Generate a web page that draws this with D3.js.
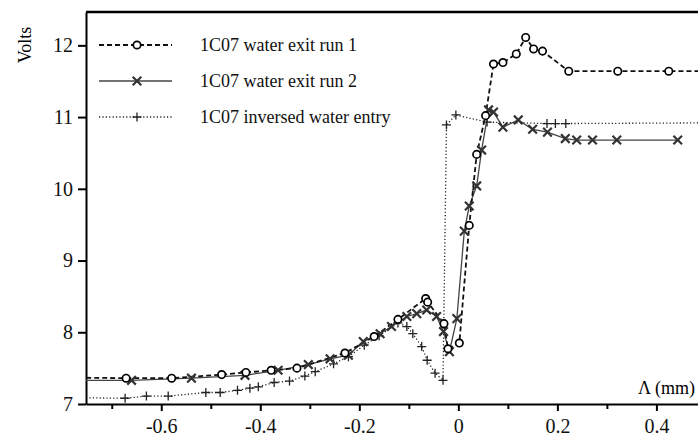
<!DOCTYPE html>
<html>
<head>
<meta charset="utf-8">
<script src="https://cdn.jsdelivr.net/npm/d3@7"></script>
<style>
body{margin:0;background:#fff;}
svg{display:block;font-family:"Liberation Serif","DejaVu Serif",serif;}
</style>
</head>
<body>
<div id="chart"></div>
<script>
// run 1 : circles, dashed
var run1X = [-0.80,-0.671,-0.579,-0.478,-0.429,-0.378,-0.326,-0.229,-0.170,-0.122,-0.066,-0.062,-0.029,-0.021,0.002,0.022,0.037,0.055,0.071,0.090,0.117,0.136,0.152,0.170,0.223,0.322,0.425,0.53];
var run1Y = [7.37,7.36,7.36,7.41,7.44,7.47,7.50,7.71,7.94,8.18,8.47,8.42,8.12,7.77,7.85,9.49,10.48,11.02,11.74,11.76,11.88,12.11,11.95,11.92,11.64,11.64,11.64,11.64];
var run1Marked = [0,1,1,1,1,1,1,1,1,1,1,1,1,1,1,1,1,1,1,1,1,1,1,1,1,1,1,0];

// run 2 : crosses, solid
var run2X = [-0.80,-0.660,-0.539,-0.431,-0.364,-0.303,-0.259,-0.222,-0.192,-0.158,-0.135,-0.104,-0.084,-0.064,-0.044,-0.030,-0.018,-0.003,0.012,0.022,0.037,0.047,0.061,0.071,0.090,0.121,0.150,0.180,0.216,0.239,0.271,0.320,0.443];
var run2Y = [7.33,7.33,7.36,7.40,7.47,7.55,7.63,7.68,7.87,7.98,8.08,8.22,8.26,8.31,8.22,8.01,7.73,8.19,9.41,9.76,10.04,10.54,11.10,11.07,10.86,10.96,10.83,10.79,10.70,10.68,10.68,10.68,10.68];
var run2Marked = [0,1,1,1,1,1,1,1,1,1,1,1,1,1,1,1,1,1,1,1,1,1,1,1,1,1,1,1,1,1,1,1,1];

// inversed entry : plus, dotted
var entryX = [-0.80,-0.673,-0.630,-0.586,-0.510,-0.481,-0.446,-0.421,-0.404,-0.372,-0.341,-0.310,-0.289,-0.252,-0.222,-0.190,-0.160,-0.122,-0.104,-0.092,-0.074,-0.063,-0.047,-0.031,-0.024,-0.005,0.058,0.179,0.196,0.217,0.53];
var entryY = [7.09,7.08,7.11,7.11,7.16,7.16,7.19,7.22,7.24,7.30,7.32,7.39,7.45,7.56,7.66,7.82,7.95,8.13,8.08,7.98,7.80,7.61,7.43,7.33,10.89,11.03,10.93,10.91,10.91,10.91,10.92];
var entryMarked = [0,1,1,1,1,1,1,1,1,1,1,1,1,1,1,1,1,1,1,1,1,1,1,1,1,1,1,1,1,1,0];

var seriesNames = ["1C07 water exit run 1","1C07 water exit run 2","1C07 inversed water entry"];
var xTicks = [-0.6,-0.4,-0.2,0,0.2,0.4];
var xMinor = [-0.7,-0.5,-0.3,-0.1,0.1,0.3];
var yTicks = [7,8,9,10,11,12];

var W = 698, H = 439;
var padL = 86, padT = 12, padB = 404, padR = 698;

var svg = d3.select("#chart").append("svg").attr("width",W).attr("height",H);

var x = d3.scaleLinear().domain([-0.752,0.484]).range([padL,padR]);
var y = d3.scaleLinear().domain([7,12.465]).range([padB,padT]);

svg.append("clipPath").attr("id","plot")
    .append("rect").attr("x",padL).attr("y",padT).attr("width",padR-padL).attr("height",padB-padT);

// axes
var fmtX = function(d){ return d==0 ? "0" : (d<0 ? "-" : "") + d3.format(".1f")(Math.abs(d)); };
var xAxis = svg.append("g").attr("transform","translate(0,"+padB+")")
    .call(d3.axisBottom(x).tickValues(xTicks).tickSize(7).tickSizeOuter(0).tickFormat(fmtX))
    .attr("font-family",null);
xAxis.select(".domain").attr("stroke-width",2);
xAxis.selectAll(".tick line").attr("stroke-width",2);
xAxis.selectAll("text").attr("font-size",20).attr("dy","0.95em").attr("fill","#111");

svg.append("g").attr("transform","translate(0,"+padB+")")
    .call(d3.axisBottom(x).tickValues(xMinor).tickSize(5).tickFormat(""))
    .call(function(g){g.select(".domain").remove();})
    .selectAll(".tick line").attr("stroke-width",2);

var yAxis = svg.append("g").attr("transform","translate("+padL+",0)")
    .call(d3.axisLeft(y).tickValues(yTicks).tickSize(8).tickSizeOuter(0).tickFormat(d3.format("d")))
    .attr("font-family",null);
yAxis.select(".domain").attr("stroke-width",2);
yAxis.selectAll(".tick line").attr("stroke-width",2);
yAxis.selectAll("text").attr("font-size",20).attr("x",-13).attr("fill","#111");

svg.append("line").attr("x1",padL).attr("x2",padR).attr("y1",padT).attr("y2",padT)
    .attr("stroke","#000").attr("stroke-width",2.5);

svg.append("text").attr("transform","translate(31,45) rotate(-90)")
    .attr("text-anchor","middle").attr("font-size",18).text("Volts");
svg.append("text").attr("x",695).attr("y",394).attr("text-anchor","end")
    .attr("font-size",18).text("\u039B (mm)");

var styles = [
  {dash:"5,3", width:1.8, color:"#111", marker:"circle"},
  {dash:null, width:1.3, color:"#444", marker:"cross"},
  {dash:"1.2,2.2", width:1.3, color:"#222", marker:"plus"}
];

function drawMarker(g, kind, px, py){
  if(kind=="circle"){
    g.append("circle").attr("cx",px).attr("cy",py).attr("r",3.7)
      .attr("fill","#fff").attr("stroke","#000").attr("stroke-width",1.7);
  }else if(kind=="cross"){
    g.append("path").attr("d","M"+(px-4.3)+","+(py-4.3)+"L"+(px+4.3)+","+(py+4.3)+"M"+(px-4.3)+","+(py+4.3)+"L"+(px+4.3)+","+(py-4.3))
      .attr("stroke","#333").attr("stroke-width",2.2);
  }else{
    g.append("path").attr("d","M"+(px-4.5)+","+py+"L"+(px+4.5)+","+py+"M"+px+","+(py-4.5)+"L"+px+","+(py+4.5))
      .attr("stroke","#222").attr("stroke-width",1.3);
  }
}

var allSeries = [
  {xs:entryX, ys:entryY, m:entryMarked, s:styles[2]},
  {xs:run2X, ys:run2Y, m:run2Marked, s:styles[1]},
  {xs:run1X, ys:run1Y, m:run1Marked, s:styles[0]}
];

var plot = svg.append("g").attr("clip-path","url(#plot)");
var line = d3.line().x(function(d){return x(d[0]);}).y(function(d){return y(d[1]);});

allSeries.forEach(function(ser){
  var pts = d3.zip(ser.xs, ser.ys);
  plot.append("path").attr("d",line(pts)).attr("fill","none")
    .attr("stroke",ser.s.color).attr("stroke-width",ser.s.width)
    .attr("stroke-dasharray",ser.s.dash);
});
allSeries.forEach(function(ser){
  for(var i=0;i<ser.xs.length;i++){
    if(ser.m[i]==1){
      drawMarker(plot, ser.s.marker, x(ser.xs[i]), y(ser.ys[i]));
    }
  }
});

// legend
var legendY = [45,81,117];
for(var i=0;i<3;i++){
  var lg = svg.append("g");
  lg.append("line").attr("x1",99).attr("x2",172).attr("y1",legendY[i]).attr("y2",legendY[i])
    .attr("stroke",styles[i].color).attr("stroke-width",styles[i].width)
    .attr("stroke-dasharray",styles[i].dash);
  drawMarker(lg, styles[i].marker, 137, legendY[i]);
  lg.append("text").attr("x",200).attr("y",legendY[i]+6).attr("font-size",18)
    .attr("fill","#111").text(seriesNames[i]);
}
</script>
</body>
</html>
